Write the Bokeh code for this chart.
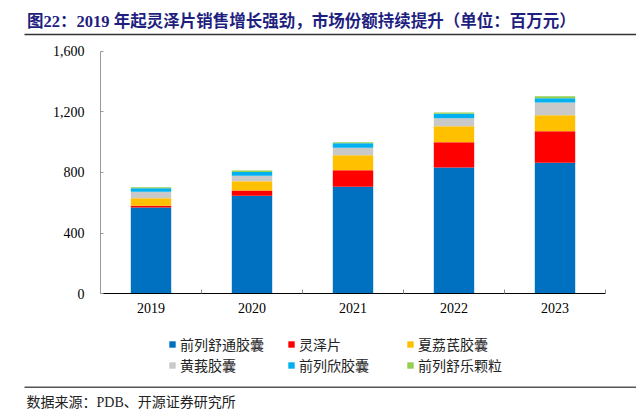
from bokeh.plotting import figure
from bokeh.models import (ColumnDataSource, Range1d, FixedTicker, NumeralTickFormatter,
                          Legend, LegendItem)
from bokeh.core.properties import value
from bokeh.embed import file_html
from bokeh.resources import INLINE

# ---------------- data ----------------
years = ["2019", "2020", "2021", "2022", "2023"]
series_names = ["前列舒通胶囊", "灵泽片", "夏荔芪胶囊", "黄莪胶囊", "前列欣胶囊", "前列舒乐颗粒"]
qianlie_shutong = [568, 646, 705, 832, 863]
lingze = [13, 35, 109, 167, 208]
xialiqi = [48, 61, 99, 105, 105]
huange = [44, 36, 49, 53, 84]
qianliexin = [22, 24, 30, 29, 28]
qianlie_shule = [7, 11, 7, 9, 13]
y_ticks = [0, 400, 800, 1200, 1600]
title_text = "图22：2019 年起灵泽片销售增长强劲，市场份额持续提升（单位：百万元）"
source_text = "数据来源：PDB、开源证券研究所"

# ---------------- style / layout ----------------
colors = ["#0070C0", "#FF0000", "#FFC000", "#C9C9C9", "#00B0F0", "#92D050"]
FONT = "Liberation Serif, Noto Sans CJK SC"
W, H = 636, 412
X0_PX, CAT_PX = 100.0, 101.0           # chart origin and category pitch (px)
Y0_PX, YTOP_PX = 293.3, 50.5           # pixel rows of 0 and of the axis maximum
Y_MAX = y_ticks[-1]
K = Y_MAX / (Y0_PX - YTOP_PX)          # value units per pixel


def px_x(px):
    return (px - X0_PX) / CAT_PX


def px_y(py):
    return (Y0_PX - py) * K


n = len(years)
keys = ["s0", "s1", "s2", "s3", "s4", "s5"]
src = ColumnDataSource(dict(
    x=[i + 0.5 for i in range(n)],
    s0=qianlie_shutong, s1=lingze, s2=xialiqi, s3=huange, s4=qianliexin, s5=qianlie_shule,
))

p = figure(width=W, height=H, x_range=Range1d(px_x(0), px_x(W)), y_range=Range1d(px_y(H), px_y(0)),
           min_border=0, output_backend="svg", toolbar_location=None)
p.xgrid.visible = False
p.ygrid.visible = False
p.outline_line_color = None
p.background_fill_color = "white"

renderers = p.vbar_stack(keys, x="x", width=0.4, color=colors, line_color=None, source=src)

# x axis (drawn at value 0)
xa = p.xaxis[0]
xa.fixed_location = 0
xa.bounds = (0, n)
xa.ticker = FixedTicker(ticks=[i + 0.5 for i in range(n)], minor_ticks=list(range(n + 1)))
xa.major_label_overrides = {i + 0.5: y for i, y in enumerate(years)}
xa.major_tick_in = 0
xa.major_tick_out = 0
xa.minor_tick_in = 4
xa.minor_tick_out = 0
xa.minor_tick_line_color = "#888888"
xa.axis_line_color = "#000000"
xa.major_label_text_font = FONT
xa.major_label_text_font_size = "14px"
xa.major_label_text_color = "#000000"
xa.major_label_standoff = 9

# y axis (drawn at category position 0)
ya = p.yaxis[0]
ya.fixed_location = 0
ya.bounds = (0, Y_MAX)
ya.ticker = FixedTicker(ticks=y_ticks)
ya.formatter = NumeralTickFormatter(format="0,0")
ya.major_tick_in = 3
ya.major_tick_out = 0
ya.minor_tick_in = 0
ya.minor_tick_out = 0
ya.axis_line_color = "#999999"
ya.major_tick_line_color = "#999999"
ya.major_label_text_font = FONT
ya.major_label_text_font_size = "14px"
ya.major_label_text_color = "#000000"
ya.major_label_standoff = 16

# title and rule
p.text(x=[px_x(26.5)], y=[px_y(20.5)], text=[title_text], text_font=value(FONT),
       text_font_size="16.5px", text_font_style="bold", text_color="#1f1f7f",
       text_baseline="middle", text_align="left")
p.segment(x0=[px_x(24)], y0=[px_y(34)], x1=[px_x(W)], y1=[px_y(34)],
          line_color="#333333", line_width=1.5)

# source rule and text
p.segment(x0=[px_x(24)], y0=[px_y(386.7)], x1=[px_x(W)], y1=[px_y(386.7)],
          line_color="#555555", line_width=1.5)
p.text(x=[px_x(26)], y=[px_y(401.5)], text=[source_text], text_font=value(FONT),
       text_font_size="14px", text_color="#222222",
       text_baseline="middle", text_align="left")

# legend (two rows of three)
legend = Legend(items=[LegendItem(label=s, renderers=[r]) for s, r in zip(series_names, renderers)],
                orientation="horizontal", ncols=3, location=(168, H - 375.5),
                glyph_width=8, glyph_height=8, label_standoff=4, label_width=107,
                label_height=21, spacing=0, padding=0, margin=0,
                border_line_color=None, background_fill_alpha=0,
                label_text_font=FONT, label_text_font_size="14px", label_text_color="#222222")
p.add_layout(legend, "center")

open("out.html", "w").write(file_html(p, INLINE))
